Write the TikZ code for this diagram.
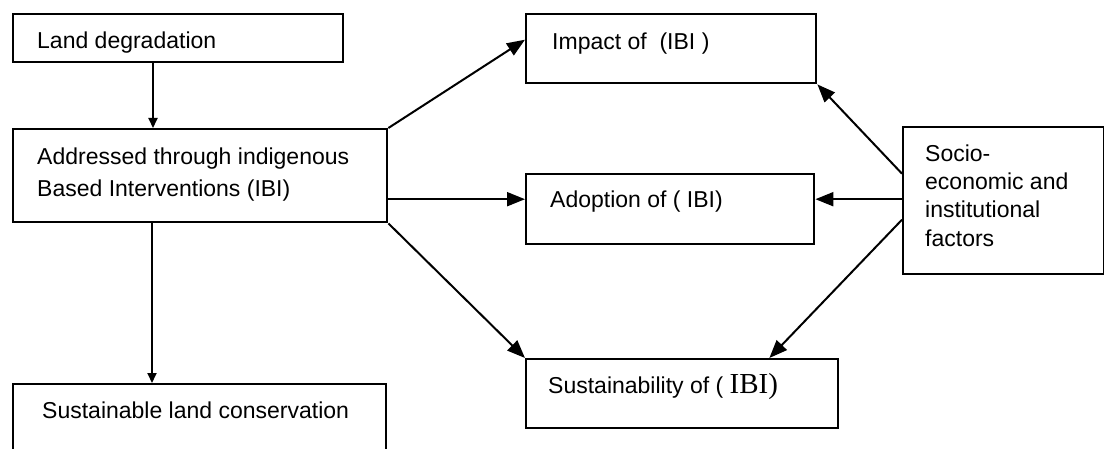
\documentclass[tikz,border=0pt]{standalone}
\usepackage{fontspec}
\setmainfont{Liberation Sans}
\newfontfamily\serifibi{Liberation Serif}
\usetikzlibrary{arrows.meta,calc}
\begin{document}
\begin{tikzpicture}[x=1pt,y=-1pt,
  box/.style={draw,line width=2.4pt,rectangle,inner sep=0pt,anchor=north west},
  lbl/.style={anchor=base west,inner sep=0pt,font=\fontsize{23}{27}\selectfont},
  conn/.style={line width=2pt},
  arr/.style={conn,-{Triangle[length=18pt,width=14pt]}},
  sarr/.style={conn,-{Triangle[length=10pt,width=9pt]}}]
\useasboundingbox (0,0) rectangle (1104,449);
\clip (0,0) rectangle (1104,449);
% boxes
\node[box,minimum width=330pt,minimum height=48pt] (ld) at (12,13) {};
\node[box,minimum width=374pt,minimum height=93pt] (ab) at (12,128) {};
\node[box,minimum width=373pt,minimum height=100pt] (sl) at (12,383) {};
\node[box,minimum width=290pt,minimum height=69pt] (imp) at (525,13) {};
\node[box,minimum width=288pt,minimum height=70pt] (ado) at (525,173) {};
\node[box,minimum width=312pt,minimum height=69pt] (sus) at (525,358) {};
\node[box,minimum width=201pt,minimum height=147pt] (soc) at (902,126) {};
% texts
\node[lbl] (tld) at (37,49) {Land degradation};
\node[lbl] (tab1) at (37,165) {Addressed through indigenous};
\node[lbl] (tab2) at (37,197) {Based Interventions (IBI)};
\node[lbl] (tsl) at (42,418) {Sustainable land conservation};
\node[lbl] (timp) at (552,50) {Impact of \ (IBI )};
\node[lbl] (tado) at (550,208) {Adoption of ( IBI)};
\node[lbl] (tsus) at (548,393) {Sustainability of ( {\serifibi\fontsize{29}{30}\selectfont IBI)}};
\node[lbl] (tsoc1) at (925,162) {Socio-};
\node[lbl] (tsoc2) at (925,190) {economic and};
\node[lbl] (tsoc3) at (925,218) {institutional};
\node[lbl] (tsoc4) at (925,247) {factors};
% connectors
\draw[sarr] ([xshift=141pt]ld.south west) -- ([xshift=141pt]ld.south west |- ab.north);
\draw[sarr] ([xshift=140pt]ab.south west) -- ([xshift=140pt]ab.south west |- sl.north);
\draw[arr] (ab.north east) -- ([yshift=9pt]imp.west);
\coordinate (adoin) at ([yshift=10pt]ado.west);
\draw[arr] (ab.east |- adoin) -- (adoin);
\draw[arr] (ab.south east) -- (sus.north west);
\draw[arr] ([yshift=27pt]soc.west) -- (imp.south east);
\coordinate (adoout) at ([yshift=10pt]ado.east);
\draw[arr] (soc.west |- adoout) -- (adoout);
\coordinate (susin) at ([xshift=-70pt]sus.north east);
\draw[arr] ([yshift=-19pt]soc.west) -- (susin);
\end{tikzpicture}
\end{document}
